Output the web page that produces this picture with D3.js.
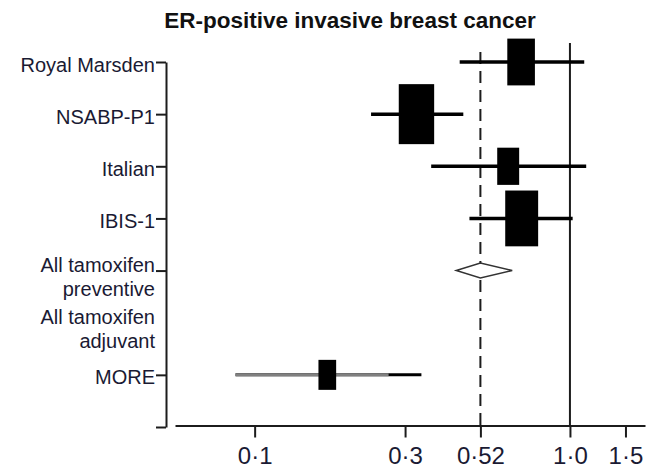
<!DOCTYPE html>
<html>
<head>
<meta charset="utf-8">
<script src="https://cdn.jsdelivr.net/npm/d3@7"></script>
<style>
  body { margin: 0; background: #fff; }
  svg { font-family: "Liberation Sans", Arial, sans-serif; }
</style>
</head>
<body>
<div id="chart"></div>
<script>
// rows on the y axis (last one is the empty slot at the bottom of the axis)
const rows = ['Royal Marsden', 'NSABP-P1', 'Italian', 'IBIS-1',
    'All tamoxifen\npreventive', 'All tamoxifen\nadjuvant', 'MORE', ''];

// individual trials: relative risk, 95% CI, relative weight
const trials = ['Royal Marsden', 'NSABP-P1', 'Italian', 'IBIS-1', 'MORE'];
const estimates = [0.70, 0.326, 0.637, 0.703, 0.170];
const lower = [0.447, 0.234, 0.363, 0.480, 0.087];
const upper = [1.11, 0.459, 1.126, 1.02, 0.338];
const weights = [0.78, 1.0, 0.62, 0.93, 0.5];

// pooled estimate (low, estimate, high)
const pooledRow = 'All tamoxifen\npreventive';
const pooled = [0.436, 0.52, 0.656];

// grey part of the MORE interval
const moreGrey = [0.087, 0.266];

const xTicks = [0.1, 0.3, 0.52, 1.0, 1.5];
const xTickLabels = ['0\u00B71', '0\u00B73', '0\u00B752', '1\u00B70', '1\u00B75'];

const ink = '#1c1c1c';

const svg = d3.select('#chart')
    .append('svg')
    .attr('width', 650)
    .attr('height', 468);

const x = d3.scaleLog().domain([0.0559, 1.73]).range([175, 645]);
const y = d3.scalePoint().domain(rows).range([62, 427]);
const boxH = d3.scaleLinear().domain([0, 1]).range([0, 60]);

// title
svg.append('text')
    .attr('x', 350)
    .attr('y', 28)
    .attr('text-anchor', 'middle')
    .attr('font-size', 22.5)
    .attr('font-weight', 'bold')
    .attr('fill', '#111')
    .text('ER-positive invasive breast cancer');

// x axis
const xAxis = svg.append('g')
    .attr('transform', 'translate(0,' + (y.range()[1] - 1.5) + ')')
    .call(d3.axisBottom(x)
        .tickValues(xTicks)
        .tickFormat((d, i) => xTickLabels[i])
        .tickSize(12)
        .tickSizeOuter(0)
        .tickPadding(9));
xAxis.selectAll('path, line').attr('stroke', ink).attr('stroke-width', 2);
xAxis.selectAll('text').attr('fill', '#1a1a33').attr('font-size', 24)
    .attr('font-family', '"Liberation Sans", Arial, sans-serif');

// y axis
const yAxis = svg.append('g')
    .attr('transform', 'translate(166,0)')
    .call(d3.axisLeft(y).tickSize(10).tickSizeOuter(0).tickPadding(1));
yAxis.selectAll('path, line').attr('stroke', ink).attr('stroke-width', 2);
yAxis.selectAll('.tick')
    .filter((d) => d === 'All tamoxifen\nadjuvant')
    .select('line').remove();
yAxis.selectAll('.tick text')
    .attr('fill', '#1a1a33')
    .attr('font-size', 20)
    .attr('font-family', '"Liberation Sans", Arial, sans-serif')
    .each(function (d) {
        const el = d3.select(this);
        const lines = d.split('\n');
        el.text('').attr('dy', null);
        lines.forEach((line, i) => {
            el.append('tspan')
                .attr('x', -11)
                .attr('dy', lines.length === 1 ? '0.45em' : (i === 0 ? '0.05em' : '1.2em'))
                .text(line);
        });
    });

// reference lines: no effect (1.0) and pooled estimate (dashed)
const yBottom = y.range()[1] - 1.5;
svg.append('line')
    .attr('x1', x(1)).attr('x2', x(1))
    .attr('y1', y(rows[0]) - 19).attr('y2', yBottom)
    .attr('stroke', ink).attr('stroke-width', 2);
svg.append('line')
    .attr('x1', x(pooled[1])).attr('x2', x(pooled[1]))
    .attr('y1', y(rows[0]) - 10).attr('y2', yBottom)
    .attr('stroke', ink).attr('stroke-width', 2)
    .attr('stroke-dasharray', '12,7');

const data = trials.map((t, i) => ({
    row: t, est: estimates[i], lo: lower[i], hi: upper[i], w: weights[i],
}));

// confidence intervals
svg.append('g')
    .selectAll('line')
    .data(data)
    .join('line')
    .attr('x1', (d) => x(d.lo))
    .attr('x2', (d) => x(d.hi))
    .attr('y1', (d) => y(d.row))
    .attr('y2', (d) => y(d.row))
    .attr('stroke', '#000')
    .attr('stroke-width', (d) => (d.row === 'MORE' ? 3 : 3.5));

// grey part of MORE interval
svg.append('line')
    .attr('x1', x(moreGrey[0])).attr('x2', x(moreGrey[1]))
    .attr('y1', y('MORE')).attr('y2', y('MORE'))
    .attr('stroke', '#808080')
    .attr('stroke-width', 3);

// weighted squares
svg.append('g')
    .selectAll('rect')
    .data(data)
    .join('rect')
    .attr('x', (d) => x(d.est) - boxH(d.w) * 0.295)
    .attr('y', (d) => y(d.row) - boxH(d.w) / 2)
    .attr('width', (d) => boxH(d.w) * 0.59)
    .attr('height', (d) => boxH(d.w))
    .attr('fill', '#000');

// pooled diamond
const py = y(pooledRow);
svg.append('path')
    .attr('d', d3.line()([
        [x(pooled[0]), py],
        [x(pooled[1]), py - 7.5],
        [x(pooled[2]), py],
        [x(pooled[1]), py + 7.5],
    ]) + 'Z')
    .attr('fill', '#fff')
    .attr('stroke', '#333')
    .attr('stroke-width', 1.5);
</script>
</body>
</html>
